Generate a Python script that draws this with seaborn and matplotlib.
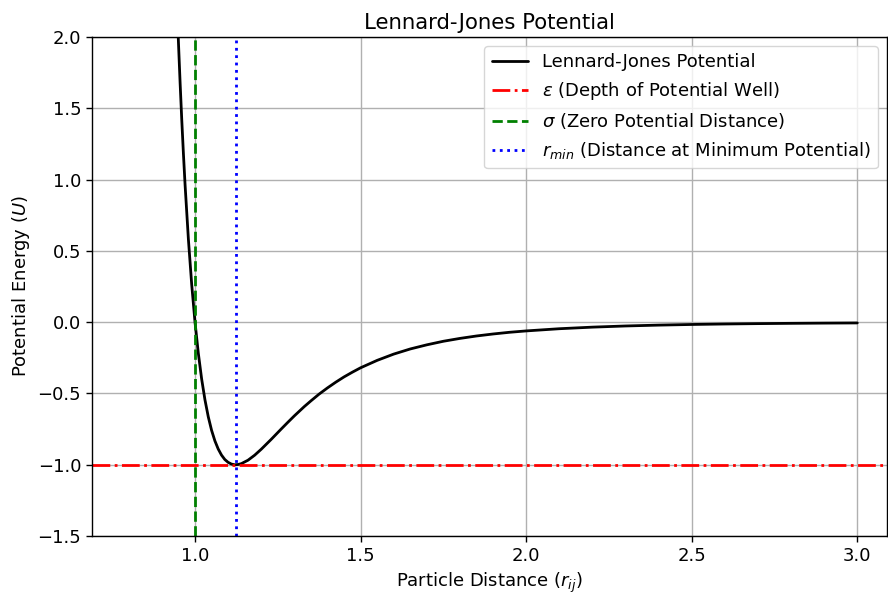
import matplotlib
matplotlib.use("Agg")
import matplotlib.pyplot as plt
import seaborn as sns
import pandas as pd

# Particle distance r (reduced units) and potential energy U
r_values = [0.80, 0.85, 0.90, 0.92, 0.94, 0.945, 0.95, 0.955, 0.96, 0.965, 0.97, 0.98, 0.99, 1.00,
            1.01, 1.02, 1.03, 1.04, 1.05, 1.06, 1.07, 1.08, 1.09, 1.10, 1.11,
            1.12, 1.13, 1.14, 1.16, 1.18, 1.20, 1.23, 1.26, 1.28, 1.30, 1.33, 1.35, 1.375, 1.40,
            1.425, 1.45, 1.475, 1.50, 1.55, 1.60, 1.65, 1.70, 1.75, 1.80, 1.85, 1.90, 1.95, 2.00,
            2.10, 2.20, 2.30, 2.40, 2.50, 2.60, 2.70, 2.80, 2.90, 3.00]
u_values = [42.95, 17.52, 6.636, 4.282, 2.607, 2.270, 1.961, 1.678, 1.418, 1.181, 0.963, 0.582, 0.264, 0.0,
            -0.218, -0.398, -0.544, -0.663, -0.758, -0.832, -0.889, -0.932, -0.963, -0.983, -0.995,
            -1.000, -0.998, -0.992, -0.968, -0.933, -0.891, -0.822, -0.750, -0.703, -0.657, -0.592, -0.552, -0.504, -0.461,
            -0.421, -0.384, -0.351, -0.320, -0.268, -0.224, -0.188, -0.159, -0.134, -0.114, -0.097, -0.083, -0.071, -0.0615,
            -0.0461, -0.0350, -0.0268, -0.0208, -0.0163, -0.0129, -0.0103, -0.0083, -0.0067, -0.0055]

epsilon_level = -1.0
sigma_dist = 1.0
r_min = 1.1225

x_ticks = [1.0, 1.5, 2.0, 2.5, 3.0]
y_ticks = [-1.5, -1.0, -0.5, 0.0, 0.5, 1.0, 1.5, 2.0]

df = pd.DataFrame({"r": r_values, "U": u_values})

sns.set_style("white")
plt.rcParams["font.family"] = ["DejaVu Sans"]
plt.rcParams["mathtext.fontset"] = "dejavusans"
for key in ["text.color", "axes.labelcolor", "xtick.color", "ytick.color"]:
    plt.rcParams[key] = "black"

fig, ax = plt.subplots(figsize=(8.88, 5.95), dpi=100)
fig.subplots_adjust(left=0.104, right=0.999, top=0.938, bottom=0.099)

sns.lineplot(data=df, x="r", y="U", ax=ax, color="black", linewidth=2,
             label="Lennard-Jones Potential", sort=False)
ax.axhline(epsilon_level, color="red", linestyle="-.", linewidth=2,
           label=r"$\epsilon$ (Depth of Potential Well)")
ax.axvline(sigma_dist, color="green", linestyle="--", linewidth=2,
           label=r"$\sigma$ (Zero Potential Distance)")
ax.axvline(r_min, color="blue", linestyle=":", linewidth=2,
           label=r"$r_{min}$ (Distance at Minimum Potential)")

ax.set_ylim(-1.5, 2.0)
ax.set_xlim(0.69, 3.09)
ax.set_xticks(x_ticks)
ax.set_yticks(y_ticks)
ax.tick_params(labelsize=13, length=4.5, width=1, direction="out", bottom=True, left=True,
               colors="black")
ax.grid(True, color="#b0b0b0", linewidth=1)
for s in ax.spines.values():
    s.set_color("black")
    s.set_linewidth(1)

ax.set_title("Lennard-Jones Potential", fontsize=15.3, color="black")
ax.set_xlabel(r"Particle Distance ($r_{ij}$)", fontsize=13, color="black")
ax.set_ylabel(r"Potential Energy ($U$)", fontsize=13, color="black")
ax.legend(loc="upper right", fontsize=13, frameon=True, framealpha=0.8, edgecolor="#cccccc")

fig.savefig("out.png", dpi=100)
